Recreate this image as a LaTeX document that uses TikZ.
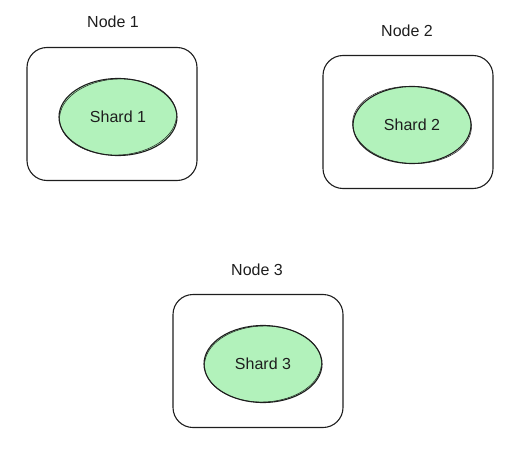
\documentclass[tikz,border=0pt]{standalone}
\usepackage{fontspec}
\setmainfont{Liberation Sans}
\usetikzlibrary{shapes.geometric}
\definecolor{shardgreen}{HTML}{B2F2BB}
\definecolor{inkline}{HTML}{1E1E1E}
\tikzset{
  hostbox/.style={draw=inkline, line width=1.1pt, rectangle, rounded corners=20pt,
    minimum width=170pt, minimum height=133pt},
  shard/.style={draw=inkline, line width=1.1pt, fill=shardgreen, ellipse,
    minimum width=118pt, minimum height=77pt, inner sep=0pt, text=inkline},
  hostlabel/.style={text=inkline},
  sketch/.style={draw=inkline, line width=0.5pt}
}
\begin{document}
\begin{tikzpicture}[x=1pt, y=-1pt, font=\fontsize{16}{19}\selectfont]
\useasboundingbox (0,0) rectangle (521,457);
% the three hosts, each with one shard inside
\node[hostbox] (n1) at (112,114) {};
\node[hostbox] (n2) at (408,122) {};
\node[hostbox] (n3) at (258,361) {};
\node[shard] (s1) at (118,117) {Shard 1};
\node[shard] (s2) at (412,125) {Shard 2};
\node[shard] (s3) at (263,364) {Shard 3};
% second pencil stroke round each shard
\draw[sketch, rotate around={3:(s1.center)}] (s1.center) ellipse (58.5pt and 38pt);
\draw[sketch, rotate around={-3:(s2.center)}] (s2.center) ellipse (59.5pt and 38.5pt);
\draw[sketch, rotate around={2:(s3.center)}] (s3.center) ellipse (58.5pt and 38pt);
% labels above the hosts
\node[hostlabel] (l1) at (113,22) {Node 1};
\node[hostlabel] (l2) at (407,31) {Node 2};
\node[hostlabel] (l3) at (257,270) {Node 3};
\end{tikzpicture}
\end{document}
